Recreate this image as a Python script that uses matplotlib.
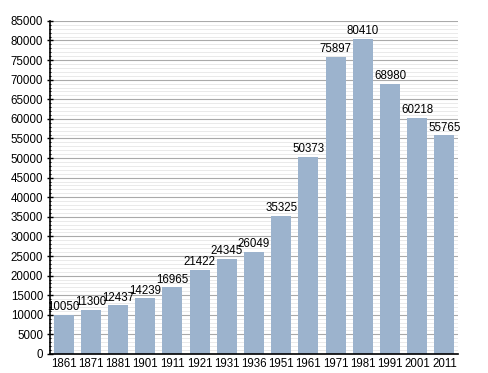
import matplotlib
matplotlib.use('Agg')
import matplotlib.pyplot as plt
import numpy as np

years = ['1861','1871','1881','1901','1911','1921','1931','1936','1951','1961','1971','1981','1991','2001','2011']
population = [10050,11300,12437,14239,16965,21422,24345,26049,35325,50373,75897,80410,68980,60218,55765]

plt.rcParams['font.family'] = ['Liberation Sans', 'DejaVu Sans']

fig = plt.figure(figsize=(4.88,3.73), dpi=100)
ax = fig.add_axes([0.1025, 0.051, 0.836, 0.893])

x = np.arange(len(years))
# grid lines first
for v in range(0, 85001, 1000):
    if v % 5000 == 0:
        ax.axhline(v, color='#aaaaaa', lw=0.8, zorder=1)
    else:
        ax.axhline(v, color='#e6e6e6', lw=0.6, zorder=1)

ax.bar(x, population, width=0.74, color='#9cb3cd', zorder=2)
for xi, p in zip(x, population):
    ax.text(xi, p + 400, str(p), ha='center', va='bottom', fontsize=8.3, zorder=3)

ax.set_xlim(-0.5, len(years) - 0.5)
ax.set_ylim(0, 85000)
ax.set_xticks(x)
ax.set_xticklabels(years, fontsize=8.3)
ax.set_yticks(np.arange(0, 85001, 5000))
ax.set_yticklabels([str(v) for v in range(0, 85001, 5000)], fontsize=8.3)
ax.set_yticks(np.arange(0, 85001, 1000), minor=True)
ax.tick_params(axis='x', length=0, pad=3)
ax.tick_params(axis='y', which='major', length=4, width=1, direction='inout', pad=3)
ax.tick_params(axis='y', which='minor', length=2, width=0.8, direction='inout')
for s in ['top', 'right']:
    ax.spines[s].set_visible(False)
ax.spines['left'].set_linewidth(1.2)
ax.spines['bottom'].set_linewidth(1.2)

fig.savefig('out.png', dpi=100)
